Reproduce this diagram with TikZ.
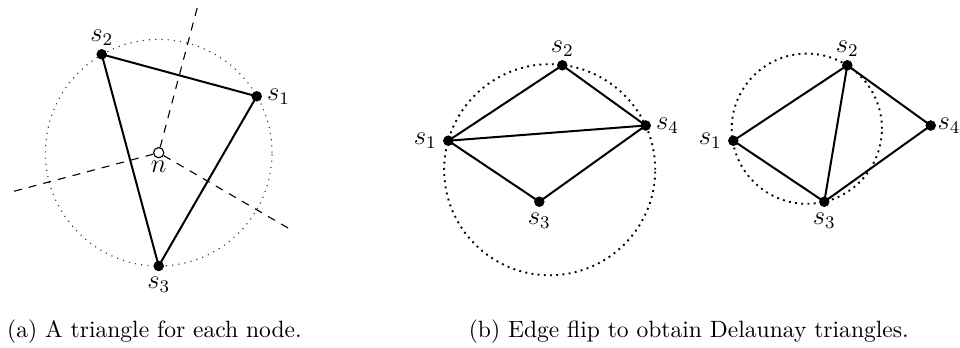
\documentclass[tikz,border=0pt]{standalone}
\begin{document}
\begin{tikzpicture}[x=0.45pt,y=-0.45pt,font=\fontsize{10.6}{13}\selectfont]
\useasboundingbox (0,0) rectangle (960,347);
\tikzset{
  sitept/.style={circle, fill=black, inner sep=0pt, minimum size=4.6pt},
  openpt/.style={circle, draw=black, fill=white, line width=0.5pt, inner sep=0pt, minimum size=4.6pt},
  tri/.style={line width=0.9pt},
  bis/.style={line width=0.5pt, dash pattern=on 3.6pt off 3.2pt},
  circthin/.style={line width=0.5pt, black!80, dash pattern=on 0.5pt off 2.3pt},
  circthick/.style={line width=0.85pt, dash pattern=on 0.85pt off 1.95pt},
  captext/.style={anchor=base west, inner sep=0pt},
  lab/.style={font=\fontsize{11.5}{13}\selectfont},
  labA/.style={lab, inner sep=1.2pt},
  labB/.style={lab, inner sep=2.2pt},
  labL/.style={lab, inner sep=2.5pt},
  labR/.style={lab, inner sep=2pt},
  labRt/.style={lab, inner sep=0.4pt}
}
% ---------- (a) ----------
\coordinate (na) at (158.7,152.7);
\draw[circthin] (na) circle[radius=51pt];
\coordinate (ea) at (197.7,6);
\coordinate (eb) at (12.3,191.7);
\coordinate (ec) at (289.3,228.7);
\node[openpt, label={[lab, inner sep=1pt]below:$n$}] (n) at (na) {};
\draw[bis] (n) -- (ea);
\draw[bis] (n) -- (eb);
\draw[bis] (n) -- (ec);
\node[sitept, label={[labR]right:$s_1$}] (a1) at (256.7,96.3) {};
\node[sitept, label={[labA]above:$s_2$}] (a2) at (101.7,54.3) {};
\node[sitept, label={[labB]below:$s_3$}] (a3) at (158.7,266) {};
\draw[tri] (a2.center) -- (a1.center) -- (a3.center) -- cycle;
\node[sitept] at (a1) {};
\node[sitept] at (a2) {};
\node[sitept] at (a3) {};
% ---------- (b) left ----------
\coordinate (cb) at (549.7,169.7);
\draw[circthick] (cb) circle[radius=47.5pt];
\node[sitept, label={[labL]left:$s_1$}] (b1) at (448.3,140.7) {};
\node[sitept, label={[labA]above:$s_2$}] (b2) at (562.3,65.3) {};
\node[sitept, label={[labB]below:$s_3$}] (b3) at (539.3,201.7) {};
\node[sitept, label={[labR]right:$s_4$}] (b4) at (645.7,125.5) {};
\draw[tri] (b1.center) -- (b2.center) -- (b4.center) -- (b3.center) -- cycle;
\draw[tri] (b1.center) -- (b4.center);
\foreach \p in {b1,b2,b3,b4} \node[sitept] at (\p) {};
% ---------- (b) right ----------
\coordinate (cc) at (806.8,128.7);
\draw[circthick] (cc) circle[radius=33.8pt];
\node[sitept, label={[labL]left:$s_1$}] (c1) at (733.3,140.7) {};
\node[sitept, label={[labA]above:$s_2$}] (c2) at (847.3,65.3) {};
\node[sitept, label={[labB]below:$s_3$}] (c3) at (824.3,201.7) {};
\node[sitept, label={[labRt]right:$s_4$}] (c4) at (930.7,125.5) {};
\draw[tri] (c1.center) -- (c2.center) -- (c4.center) -- (c3.center) -- cycle;
\draw[tri] (c2.center) -- (c3.center);
\foreach \p in {c1,c2,c3,c4} \node[sitept] at (\p) {};
% ---------- captions ----------
\node[captext] (capa) at (6.7,337) {(a) A triangle for each node.};
\node[captext] (capb) at (468.3,337) {(b) Edge flip to obtain Delaunay triangles.};
\end{tikzpicture}
\end{document}
